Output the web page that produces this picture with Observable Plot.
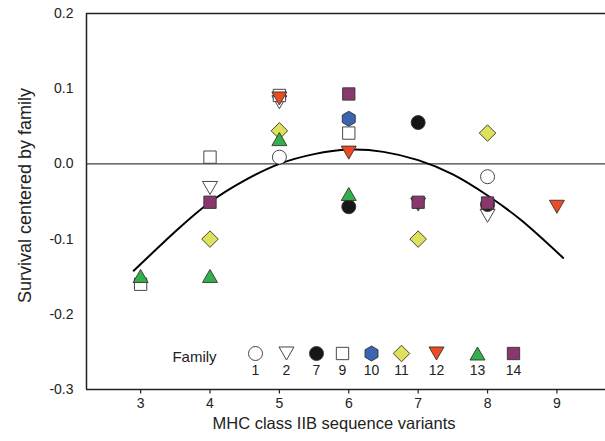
<!DOCTYPE html>
<html><head><meta charset="utf-8">
<script src="https://cdn.jsdelivr.net/npm/d3@7"></script>
<script src="https://cdn.jsdelivr.net/npm/@observablehq/plot@0.6"></script>
<style>
body{margin:0;background:#fff} svg{display:block}
</style>
</head><body><div id="chart"></div>
<script>
// ---- data ----
const families = ["1", "2", "7", "9", "10", "11", "12", "13", "14"];
const familyShapes = ["circle", "triangleDown", "circle", "square", "hexagon", "diamond", "triangleDown", "triangleUp", "square"];
const familyFills = ["#ffffff", "#ffffff", "#161616", "#ffffff", "#3b64b1", "#dfe05c", "#ee4b24", "#34b04b", "#8a376d"];
const familyVariants = [
  [5, 8],
  [4, 5, 8],
  [6, 7, 8],
  [3, 4, 5, 6],
  [6],
  [4, 5, 7, 8],
  [5, 6, 7, 9],
  [3, 4, 5, 6],
  [4, 6, 7, 8]
];
const familySurvival = [
  [0.009, -0.017],
  [-0.032, 0.082, -0.069],
  [-0.057, 0.055, -0.054],
  [-0.160, 0.009, 0.091, 0.041],
  [0.060],
  [-0.100, 0.044, -0.100, 0.041],
  [0.087, 0.015, -0.054, -0.057],
  [-0.149, -0.149, 0.033, -0.040],
  [-0.051, 0.093, -0.051, -0.052]
];
// fitted curve
const curveX = [2.9, 3.5, 4, 4.5, 5, 5.5, 6, 6.5, 7, 7.5, 8, 8.5, 9.09];
const curveY = [-0.142, -0.090, -0.051, -0.022, 0.000, 0.013, 0.019, 0.016, 0.005, -0.014, -0.042, -0.076, -0.125];
const xTicks = [3, 4, 5, 6, 7, 8, 9];
const yTicks = [-0.3, -0.2, -0.1, 0.0, 0.1, 0.2];
const xDomain = [2.22, 9.7];
const yDomain = [-0.3, 0.2];
const xTitle = "MHC class IIB sequence variants";
const yTitle = "Survival centered by family";
const legendTitle = "Family";

// ---- layout (pixels) ----
const legendDx = [169, 200, 230, 256, 285, 315, 350, 391, 427];

// ---- symbols ----
const sym = (fn) => ({draw(ctx, size) { const r = Math.sqrt(size / Math.PI); fn(ctx, r); }});
const shapes = {
  circle: sym((c, r) => { c.moveTo(r, 0); c.arc(0, 0, r, 0, 2 * Math.PI); c.closePath(); }),
  square: sym((c, r) => { const s = r * 0.88; c.moveTo(-s, -s); c.lineTo(s, -s); c.lineTo(s, s); c.lineTo(-s, s); c.closePath(); }),
  triangleUp: sym((c, r) => { const w = r * 1.07, h = r * 0.93; c.moveTo(0, -h); c.lineTo(w, h); c.lineTo(-w, h); c.closePath(); }),
  triangleDown: sym((c, r) => { const w = r * 1.07, h = r * 0.93; c.moveTo(0, h); c.lineTo(w, -h); c.lineTo(-w, -h); c.closePath(); }),
  diamond: sym((c, r) => { const d = r * 1.18; c.moveTo(0, -d); c.lineTo(d, 0); c.lineTo(0, d); c.lineTo(-d, 0); c.closePath(); }),
  hexagon: sym((c, r) => {
    const R = r * 1.07;
    for (let i = 0; i < 6; i++) {
      const a = Math.PI / 3 * i - Math.PI / 2;
      const px = R * Math.cos(a), py = R * Math.sin(a);
      if (i === 0) c.moveTo(px, py); else c.lineTo(px, py);
    }
    c.closePath();
  }),
  vtick: sym((c, r) => { c.moveTo(0, -r); c.lineTo(0, r); })
};

const points = families.map((f, i) => familyVariants[i].map((v, j) => ({family: f, x: v, y: familySurvival[i][j]})));
const curve = curveX.map((x, i) => ({x, y: curveY[i]}));

const marks = [];
// axes
marks.push(Plot.dot(xTicks, {x: d => d, frameAnchor: "bottom", dy: 2, r: 2, symbol: shapes.vtick, stroke: "#222", strokeWidth: 1.2, fill: "none"}));
marks.push(Plot.text(xTicks, {x: d => d, text: d => String(d), frameAnchor: "bottom", dy: 14, fontSize: 14, fill: "#222", textAnchor: "middle", lineAnchor: "middle"}));
marks.push(Plot.text(yTicks, {y: d => d, text: d => d.toFixed(1), frameAnchor: "left", dx: -13, fontSize: 14, fill: "#222", textAnchor: "end", lineAnchor: "middle"}));
marks.push(Plot.ruleY([0], {stroke: "#111", strokeWidth: 1}));
marks.push(Plot.ruleY([yDomain[1]], {stroke: "#222", strokeWidth: 1.5}));
marks.push(Plot.ruleY([yDomain[0]], {stroke: "#222", strokeWidth: 1.5}));
marks.push(Plot.ruleX([xDomain[0]], {stroke: "#222", strokeWidth: 1.5}));
// fitted curve
marks.push(Plot.line(curve, {x: "x", y: "y", curve: "natural", stroke: "#000", strokeWidth: 2}));
// points
families.forEach((f, i) => {
  marks.push(Plot.dot(points[i], {x: "x", y: "y", r: 7, symbol: shapes[familyShapes[i]], fill: familyFills[i], stroke: "#333", strokeWidth: 0.9}));
});
// legend
marks.push(Plot.text([legendTitle], {text: d => d, frameAnchor: "top-left", dx: 108, dy: 344, fontSize: 15, fill: "#222", textAnchor: "middle", lineAnchor: "middle"}));
families.forEach((f, i) => {
  marks.push(Plot.dot([f], {frameAnchor: "top-left", dx: legendDx[i], dy: 340, r: 7, symbol: shapes[familyShapes[i]], fill: familyFills[i], stroke: "#333", strokeWidth: 0.9}));
  marks.push(Plot.text([f], {text: d => d, frameAnchor: "top-left", dx: legendDx[i], dy: 357, fontSize: 14, fill: "#222", textAnchor: "middle", lineAnchor: "middle"}));
});
// titles
marks.push(Plot.text([xTitle], {text: d => d, frameAnchor: "bottom", dx: -12, dy: 34, fontSize: 16.5, fill: "#222", textAnchor: "middle", lineAnchor: "middle"}));
marks.push(Plot.text([yTitle], {text: d => d, frameAnchor: "left", dx: -61, dy: -6, rotate: -90, fontSize: 18, fill: "#222", textAnchor: "middle", lineAnchor: "middle"}));

const chart = Plot.plot({
  width: 605,
  height: 441,
  marginLeft: 86,
  marginRight: 0,
  marginTop: 13,
  marginBottom: 52,
  style: {fontFamily: "'Liberation Sans', Arial, sans-serif", fontSize: "14px", color: "#222", background: "#fff"},
  x: {domain: xDomain, axis: null},
  y: {domain: yDomain, axis: null},
  marks
});
document.getElementById("chart").appendChild(chart);
</script>
</body></html>
